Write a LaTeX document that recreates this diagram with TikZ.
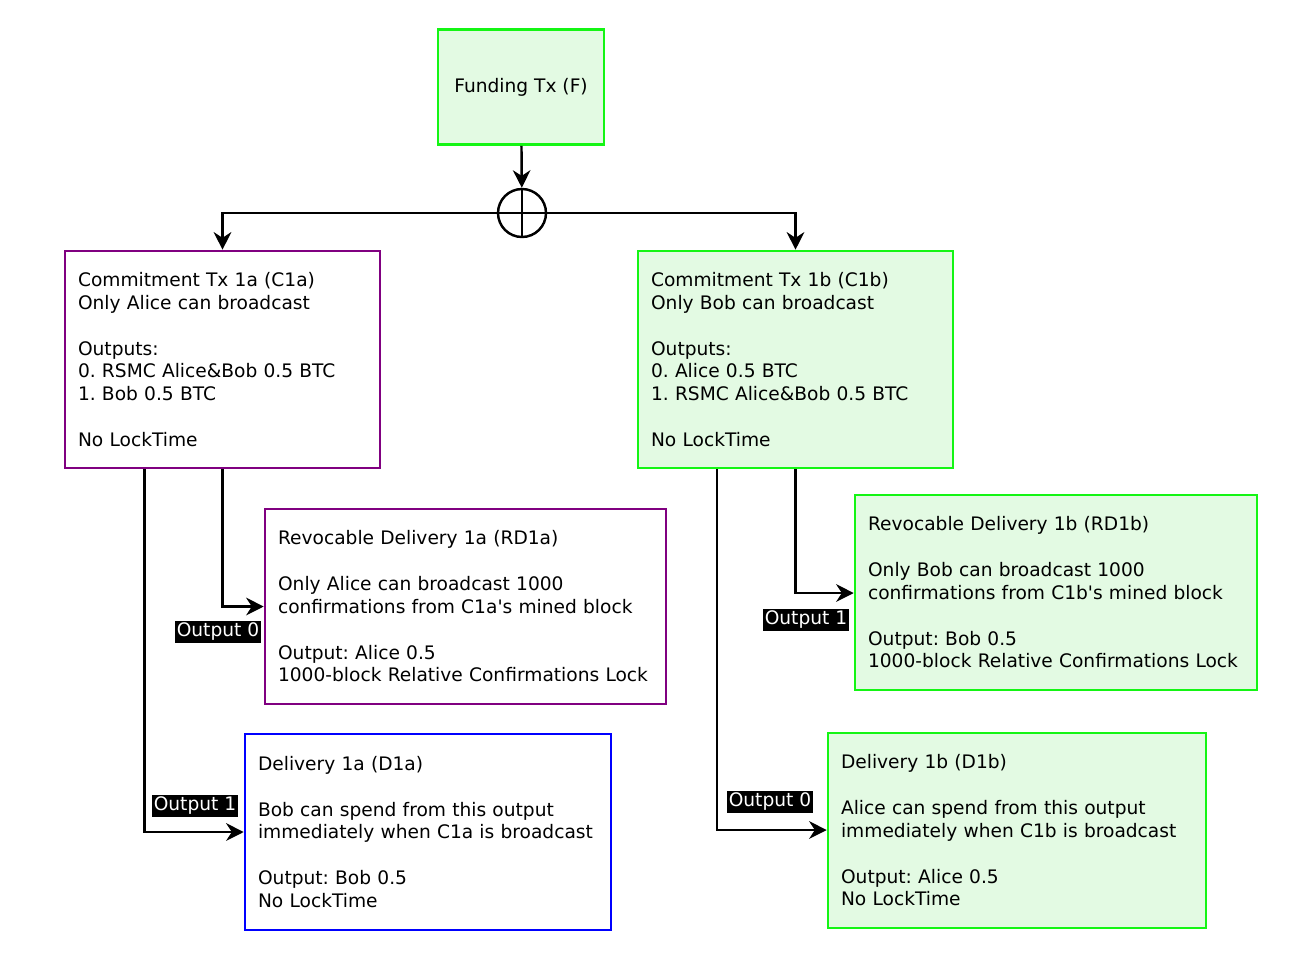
\documentclass[tikz,border=0pt]{standalone}
\usepackage{fontspec}
\setmainfont{DejaVu Sans}
\usetikzlibrary{arrows.meta,calc}
\frenchspacing
\definecolor{lgreen}{RGB}{227,250,227}
\definecolor{bgreen}{RGB}{20,245,20}
\definecolor{purp}{RGB}{128,0,128}
\tikzset{
	block/.style = {draw, line width=1.5pt, rectangle, align=left, inner sep=0pt, font=\fontsize{10.6}{13}\selectfont},
	gblock/.style = {block, draw=bgreen, fill=lgreen},
	pblock/.style = {block, draw=purp, fill=white},
	sum/.style = {draw, circle, line width=1.4pt, minimum size=0.96cm, inner sep=0pt},
	outlab/.style = {fill=black, text=white, inner sep=1pt, font=\fontsize{10.6}{12}\selectfont},
	vec/.style = {line width=1.4pt, -{Stealth[length=10pt,width=10pt]}}
}
\begin{document}
\begin{tikzpicture}[x=0.02cm, y=-0.02cm]
    \useasboundingbox (0,0) rectangle (1294,964);
    % boxes
    \node [gblock, minimum width=3.32cm, minimum height=2.3cm] (fund) at (521,87) {Funding Tx (F)};
    \node [sum] (sum) at (522,213) {};
    \draw [line width=1.4pt] (sum.north) -- (sum.south) (sum.west) -- (sum.east);
    \node [pblock, minimum width=6.3cm, minimum height=4.34cm, text width=5.78cm] (c1a) at (222.5,359.5)
        {Commitment Tx 1a (C1a)\\Only Alice can broadcast\\~\\Outputs:\\0. RSMC Alice\&Bob 0.5 BTC\\1. Bob 0.5 BTC\\~\\No LockTime};
    \node [gblock, minimum width=6.3cm, minimum height=4.34cm, text width=5.78cm] (c1b) at (795.5,359.5)
        {Commitment Tx 1b (C1b)\\Only Bob can broadcast\\~\\Outputs:\\0. Alice 0.5 BTC\\1. RSMC Alice\&Bob 0.5 BTC\\~\\No LockTime};
    \node [pblock, minimum width=8.02cm, minimum height=3.9cm, text width=7.5cm] (rd1a) at (465.5,606.5)
        {Revocable Delivery 1a (RD1a)\\~\\Only Alice can broadcast 1000\\confirmations from C1a\textquotesingle s mined block\\~\\Output: Alice 0.5\\1000-block Relative Confirmations Lock};
    \node [gblock, minimum width=8.04cm, minimum height=3.9cm, text width=7.52cm] (rd1b) at (1056,592.5)
        {Revocable Delivery 1b (RD1b)\\~\\Only Bob can broadcast 1000\\confirmations from C1b\textquotesingle s mined block\\~\\Output: Bob 0.5\\1000-block Relative Confirmations Lock};
    \node [block, draw=blue, fill=white, minimum width=7.32cm, minimum height=3.92cm, text width=6.8cm] (d1a) at (428,832)
        {Delivery 1a (D1a)\\~\\Bob can spend from this output\\immediately when C1a is broadcast\\~\\Output: Bob 0.5\\No LockTime};
    \node [gblock, minimum width=7.56cm, minimum height=3.9cm, text width=7.04cm] (d1b) at (1017,830.5)
        {Delivery 1b (D1b)\\~\\Alice can spend from this output\\immediately when C1b is broadcast\\~\\Output: Alice 0.5\\No LockTime};

    % connectors
    \draw [vec] (fund) -- (sum);
    \draw [vec] (sum) -| (c1a);
    \draw [vec] (sum) -| (c1b);
    \draw [vec] (c1a) |- (rd1a);
    \draw [vec] (c1a.south) ++(-78,0) coordinate (c1ao) |- (d1a);
    \draw [vec] (c1b) |- ($(rd1b.west)+(0,0.5)$);
    \draw [vec] (c1b.south) ++(-78.5,0) coordinate (c1bo) |- ($(d1b.west)+(0,-0.5)$);

    % output labels
    \node [outlab] (o0a) at (218,632) {Output 0};
    \node [outlab] (o1a) at (195,806) {Output 1};
    \node [outlab] (o1b) at (806,620) {Output 1};
    \node [outlab] (o0b) at (770,802) {Output 0};
\end{tikzpicture}
\end{document}
